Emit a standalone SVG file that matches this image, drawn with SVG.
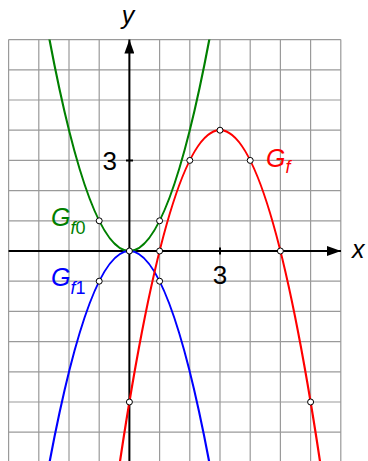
<svg xmlns="http://www.w3.org/2000/svg" width="368" height="461" viewBox="0 0 368 461">
<style>
.grid{stroke:#9a9a9a;stroke-width:1.2;fill:none}
.axis{stroke:#000;stroke-width:2;fill:none}
.curve{stroke-width:2.2;fill:none}
.pt{fill:#fff;stroke:#000;stroke-width:1}
.lbl{font-family:"Liberation Sans",Arial,sans-serif;font-style:italic;font-size:25px}
.num{font-family:"Liberation Sans",Arial,sans-serif;font-size:26px}
.sub{font-size:18px}
</style>
<defs>
<marker id="arr" markerUnits="userSpaceOnUse" markerWidth="14" markerHeight="10" refX="14" refY="5" orient="auto">
<polygon points="0,0 14,5 0,10" fill="#000"/>
</marker>
<clipPath id="clip"><rect x="8.6" y="39.6" width="332.2" height="422"/></clipPath>
</defs>
<g id="grid">
<path class="grid" d="M8.6 39.6V461M38.8 39.6V461M69 39.6V461M99.2 39.6V461M129.4 39.6V461M159.6 39.6V461M189.8 39.6V461M220 39.6V461M250.2 39.6V461M280.4 39.6V461M310.6 39.6V461M340.8 39.6V461M8.6 39.6H340.8M8.6 69.8H340.8M8.6 100H340.8M8.6 130.2H340.8M8.6 160.4H340.8M8.6 190.6H340.8M8.6 220.8H340.8M8.6 251H340.8M8.6 281.2H340.8M8.6 311.4H340.8M8.6 341.6H340.8M8.6 371.8H340.8M8.6 402H340.8M8.6 432.2H340.8"/>
</g>
<g id="axes">
<line class="axis" x1="8.6" y1="251" x2="341" y2="251" marker-end="url(#arr)"/>
<line class="axis" x1="129.4" y1="461" x2="129.4" y2="39.6" marker-end="url(#arr)"/>
<path class="axis" stroke-width="1.5" d="M126 160.4H133M220 247.5V254.5"/>
</g>
<g id="connectors" clip-path="url(#clip)">
<path id="Gf0-curve" class="curve" stroke="#008000" d="M38.8 -20.8Q129.4 522.8 220 -20.8"/>
<path id="Gf1-curve" class="curve" stroke="#0000ff" d="M38.8 522.8Q129.4 -20.8 220 522.8"/>
<path id="Gf-curve" class="curve" stroke="#ff0000" d="M114.3 500.15Q220 -239.75 325.7 500.15"/>
</g>
<g id="points">
<circle class="pt" cx="99.2" cy="220.8" r="3"/>
<circle class="pt" cx="159.6" cy="220.8" r="3"/>
<circle class="pt" cx="99.2" cy="281.2" r="3"/>
<circle class="pt" cx="159.6" cy="281.2" r="3"/>
<circle class="pt" cx="129.4" cy="251" r="3"/>
<circle class="pt" cx="159.6" cy="251" r="3"/>
<circle class="pt" cx="280.4" cy="251" r="3"/>
<circle class="pt" cx="129.4" cy="402" r="3"/>
<circle class="pt" cx="310.6" cy="402" r="3"/>
<circle class="pt" cx="189.8" cy="160.4" r="3"/>
<circle class="pt" cx="250.2" cy="160.4" r="3"/>
<circle class="pt" cx="220" cy="130.2" r="3"/>
</g>
<g id="labels">
<text class="lbl" x="128" y="24" text-anchor="middle">y</text>
<text class="lbl" x="352" y="258">x</text>
<text class="num" x="117" y="170" text-anchor="end">3</text>
<text class="num" x="220" y="284" text-anchor="middle">3</text>
<g id="Gf0-label" fill="#008000"><text class="lbl" x="51" y="226">G<tspan class="sub" dy="8">f</tspan><tspan class="sub" font-style="normal">0</tspan></text></g>
<g id="Gf1-label" fill="#0000ff"><text class="lbl" x="51" y="286">G<tspan class="sub" dy="8">f</tspan><tspan class="sub" font-style="normal">1</tspan></text></g>
<g id="Gf-label" fill="#ff0000"><text class="lbl" x="266" y="167">G<tspan class="sub" dy="6">f</tspan></text></g>
</g>
</svg>
